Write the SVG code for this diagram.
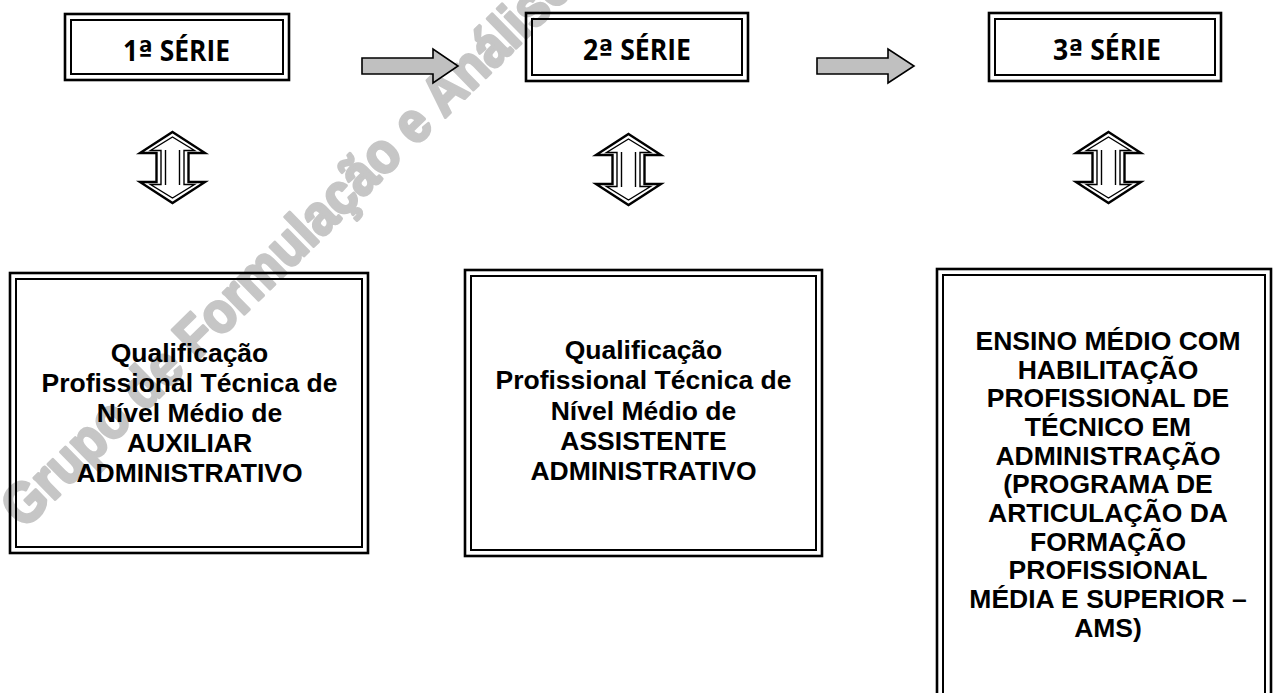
<svg xmlns="http://www.w3.org/2000/svg" width="1273" height="693" viewBox="0 0 1273 693">
<style>
.bg{fill:#ffffff}
.wm{font-family:"Liberation Sans",Arial,sans-serif;font-weight:bold;font-size:57px;fill:#c6c6c6;stroke:#c6c6c6;stroke-width:3;stroke-linejoin:round}
.ob{fill:none;stroke:#000;stroke-width:2.6}
.ib{fill:none;stroke:#000;stroke-width:2}
.hd{font-family:"Open Sans",Lato,sans-serif;font-weight:bold;font-size:28px;fill:#000;text-anchor:middle}
.ord{font-family:"DejaVu Sans",sans-serif;font-weight:bold}
.bt{font-family:"Liberation Sans",Arial,sans-serif;font-weight:bold;font-size:26.5px;fill:#000;text-anchor:middle}
.ga{fill:#c0c0c0;stroke:#000;stroke-width:1.6;stroke-linejoin:miter}
.da{fill:#fff;stroke:#000;stroke-width:2.4;stroke-linejoin:miter}
.di{fill:none;stroke:#000;stroke-width:1.4;stroke-linejoin:miter}
</style>
<defs>
<g id="dbl">
<path class="da" d="M0,0 L32.5,21 L16,21 L16,50 L32.5,50 L0,71 L-32.5,50 L-16,50 L-16,21 L-32.5,21 Z"/>
<path class="di" d="M0,5 L22,18.5 L11.5,18.5 L11.5,52.5 L22,52.5 L0,66 L-22,52.5 L-11.5,52.5 L-11.5,18.5 L-22,18.5 Z"/>
<path class="di" d="M-7,18 L-7,53 M7,18 L7,53"/>
</g>
</defs>
<rect class="bg" x="0" y="0" width="1273" height="693"/>
<text class="wm" transform="translate(24,530) rotate(-44.4) scale(0.9,1)">Grupo de Formulação e Análise</text>
<g id="connectors">
<path id="arrow1" class="ga" d="M362,58 L433,58 L433,49 L458,66 L433,83 L433,74 L362,74 Z"/>
<path id="arrow2" class="ga" d="M817,58 L888,58 L888,49 L914,66 L888,83 L888,74 L817,74 Z"/>
<use id="updown1" href="#dbl" x="172.5" y="132"/>
<use id="updown2" href="#dbl" x="628.5" y="134"/>
<use id="updown3" href="#dbl" x="1108.5" y="132"/>
</g>
<g id="serie1">
<rect class="ob" x="65" y="14" width="224" height="66"/>
<rect class="ib" x="71" y="20" width="212" height="54"/>
<text class="hd" x="176.5" y="61" textLength="107" lengthAdjust="spacingAndGlyphs">1<tspan class="ord">ª</tspan> SÉRIE</text>
</g>
<g id="serie2">
<rect class="ob" x="526" y="13" width="222" height="68"/>
<rect class="ib" x="532" y="19" width="210" height="56"/>
<text class="hd" x="637" y="60" textLength="108" lengthAdjust="spacingAndGlyphs">2<tspan class="ord">ª</tspan> SÉRIE</text>
</g>
<g id="serie3">
<rect class="ob" x="989" y="13" width="232" height="68"/>
<rect class="ib" x="995" y="19" width="220" height="56"/>
<text class="hd" x="1107" y="60" textLength="108" lengthAdjust="spacingAndGlyphs">3<tspan class="ord">ª</tspan> SÉRIE</text>
</g>
<g id="auxiliar">
<rect class="ob" x="10" y="273" width="358" height="280"/>
<rect class="ib" x="16" y="279" width="346" height="268"/>
<text class="bt" x="189.5" y="362">Qualificação</text>
<text class="bt" x="189.5" y="392">Profissional Técnica de</text>
<text class="bt" x="189.5" y="422">Nível Médio de</text>
<text class="bt" x="189.5" y="452">AUXILIAR</text>
<text class="bt" x="189.5" y="482">ADMINISTRATIVO</text>
</g>
<g id="assistente">
<rect class="ob" x="465" y="270" width="357" height="286"/>
<rect class="ib" x="471" y="276" width="345" height="274"/>
<text class="bt" x="643.5" y="359">Qualificação</text>
<text class="bt" x="643.5" y="389">Profissional Técnica de</text>
<text class="bt" x="643.5" y="420">Nível Médio de</text>
<text class="bt" x="643.5" y="450">ASSISTENTE</text>
<text class="bt" x="643.5" y="480">ADMINISTRATIVO</text>
</g>
<g id="tecnico">
<rect class="ob" x="937" y="269" width="334" height="440"/>
<rect class="ib" x="943" y="275" width="322" height="430"/>
<text class="bt" x="1108" y="350">ENSINO MÉDIO COM</text>
<text class="bt" x="1108" y="378.7">HABILITAÇÃO</text>
<text class="bt" x="1108" y="407.3">PROFISSIONAL DE</text>
<text class="bt" x="1108" y="436">TÉCNICO EM</text>
<text class="bt" x="1108" y="464.7">ADMINISTRAÇÃO</text>
<text class="bt" x="1108" y="493.3">(PROGRAMA DE</text>
<text class="bt" x="1108" y="522">ARTICULAÇÃO DA</text>
<text class="bt" x="1108" y="550.7">FORMAÇÃO</text>
<text class="bt" x="1108" y="579.3">PROFISSIONAL</text>
<text class="bt" x="1108" y="608">MÉDIA E SUPERIOR –</text>
<text class="bt" x="1108" y="636.7">AMS)</text>
</g>
</svg>
